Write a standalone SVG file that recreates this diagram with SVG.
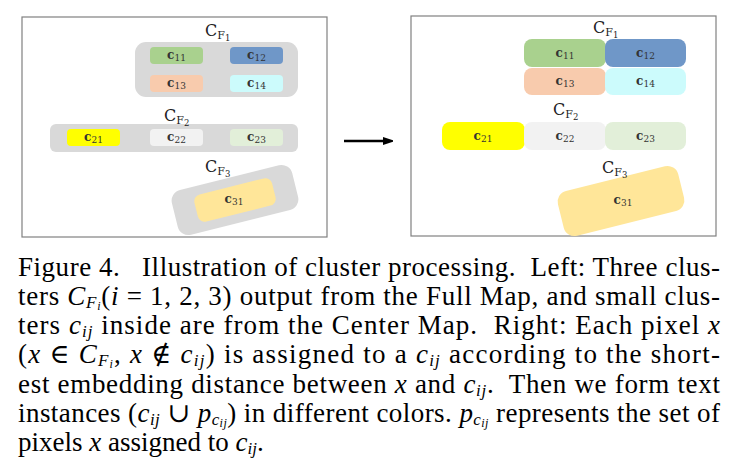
<svg xmlns="http://www.w3.org/2000/svg" width="744" height="474" viewBox="0 0 744 474">
<style>
.panel{fill:#fff;stroke:#808080;stroke-width:1.2}
.cl{fill:#d9d9d9}
.lbl{font-family:"DejaVu Serif","Liberation Serif",serif;font-size:12px;fill:#333;text-anchor:middle;font-weight:600}
.lbl .s{font-size:9px;font-weight:normal}
.cf{font-family:"DejaVu Serif","Liberation Serif",serif;font-size:16px;fill:#222}
.cap{font-family:"Liberation Serif","DejaVu Serif",serif;font-size:27px;fill:#000}
.i{font-style:italic}
.sb{font-style:italic;font-size:17px}
.ssb{font-style:italic;font-size:12px}
</style>
<defs>
<marker id="ah" markerWidth="10" markerHeight="8" refX="1" refY="4" orient="auto" markerUnits="userSpaceOnUse"><path d="M0,0 L12,4 L0,8 Z" fill="#000"/></marker>
</defs>
<rect width="744" height="474" fill="#fff"/>
<g id="left-panel">
<rect class="panel" x="22" y="17" width="305" height="220"/>
<g id="CF1-left">
<rect class="cl" x="135" y="42" width="163" height="55" rx="11"/>
<text class="cf" x="205" y="36">C<tspan font-size="11" dy="3">F</tspan><tspan font-size="8.5" dy="2">1</tspan></text>
</g>
<g id="c11-left"><rect x="150" y="47" width="53" height="17" rx="4" fill="#a9d18e"/><text class="lbl" x="176.5" y="59">c<tspan class="s" dy="2">11</tspan></text></g>
<g id="c12-left"><rect x="230" y="47" width="53" height="17" rx="4" fill="#6f97c8"/><text class="lbl" x="256.5" y="59">c<tspan class="s" dy="2">12</tspan></text></g>
<g id="c13-left"><rect x="150" y="75" width="53" height="17" rx="4" fill="#f8cbad"/><text class="lbl" x="176.5" y="87">c<tspan class="s" dy="2">13</tspan></text></g>
<g id="c14-left"><rect x="230" y="75" width="53" height="17" rx="4" fill="#ccfbfc"/><text class="lbl" x="256.5" y="87">c<tspan class="s" dy="2">14</tspan></text></g>
<g id="CF2-left">
<rect class="cl" x="50" y="124" width="248" height="28" rx="6"/>
<text class="cf" x="164" y="121">C<tspan font-size="11" dy="3">F</tspan><tspan font-size="8.5" dy="2">2</tspan></text>
</g>
<g id="c21-left"><rect x="67" y="129" width="53" height="17" rx="4" fill="#ffff00"/><text class="lbl" x="93.5" y="141">c<tspan class="s" dy="2">21</tspan></text></g>
<g id="c22-left"><rect x="150" y="129" width="53" height="17" rx="4" fill="#f2f2f2"/><text class="lbl" x="176.5" y="141">c<tspan class="s" dy="2">22</tspan></text></g>
<g id="c23-left"><rect x="230" y="129" width="53" height="17" rx="4" fill="#e2efd9"/><text class="lbl" x="256.5" y="141">c<tspan class="s" dy="2">23</tspan></text></g>
<g id="CF3-left">
<rect class="cl" x="173" y="177" width="124" height="46" rx="11" transform="rotate(-14 235 200)"/>
<text class="cf" x="205" y="172">C<tspan font-size="11" dy="3">F</tspan><tspan font-size="8.5" dy="2">3</tspan></text>
</g>
<g id="c31-left"><rect x="195" y="186" width="80" height="28" rx="7" fill="#ffe699" transform="rotate(-14 235 200)"/><text class="lbl" x="234" y="203">c<tspan class="s" dy="2">31</tspan></text></g>
</g>
<g id="connectors">
<line x1="344" y1="141" x2="384" y2="141" stroke="#000" stroke-width="2.5" marker-end="url(#ah)"/>
</g>
<g id="right-panel">
<rect class="panel" x="411" y="16" width="305" height="220"/>
<text class="cf" x="593" y="33">C<tspan font-size="11" dy="3">F</tspan><tspan font-size="8.5" dy="2">1</tspan></text>
<g id="c11-right"><rect x="524" y="39" width="82" height="28" rx="8" fill="#a9d18e"/><text class="lbl" x="565" y="57">c<tspan class="s" dy="2">11</tspan></text></g>
<g id="c12-right"><rect x="605" y="39" width="81" height="28" rx="8" fill="#6f97c8"/><text class="lbl" x="645.5" y="57">c<tspan class="s" dy="2">12</tspan></text></g>
<g id="c13-right"><rect x="524" y="68" width="82" height="27" rx="8" fill="#f8cbad"/><text class="lbl" x="565" y="85">c<tspan class="s" dy="2">13</tspan></text></g>
<g id="c14-right"><rect x="605" y="68" width="81" height="27" rx="8" fill="#ccfbfc"/><text class="lbl" x="645.5" y="85">c<tspan class="s" dy="2">14</tspan></text></g>
<text class="cf" x="553" y="115">C<tspan font-size="11" dy="3">F</tspan><tspan font-size="8.5" dy="2">2</tspan></text>
<g id="c21-right"><rect x="442" y="122" width="83" height="28" rx="8" fill="#ffff00"/><text class="lbl" x="483" y="140">c<tspan class="s" dy="2">21</tspan></text></g>
<g id="c22-right"><rect x="524" y="122" width="82" height="28" rx="8" fill="#f2f2f2"/><text class="lbl" x="565" y="140">c<tspan class="s" dy="2">22</tspan></text></g>
<g id="c23-right"><rect x="605" y="122" width="81" height="28" rx="8" fill="#e2efd9"/><text class="lbl" x="645.5" y="140">c<tspan class="s" dy="2">23</tspan></text></g>
<g id="c31-right"><rect x="559" y="178" width="124" height="46" rx="11" fill="#ffe699" transform="rotate(-14 621 201)"/><text class="lbl" x="623" y="204">c<tspan class="s" dy="2">31</tspan></text></g>
<text class="cf" x="602" y="173">C<tspan font-size="11" dy="3">F</tspan><tspan font-size="8.5" dy="2">3</tspan></text>
</g>
<g id="caption" class="cap">
<text x="18" y="276" textLength="702" lengthAdjust="spacing">Figure 4.&#160;&#160; Illustration of cluster processing.&#160; Left: Three clus-</text>
<text x="18" y="305" textLength="702" lengthAdjust="spacing">ters <tspan class="i">C</tspan><tspan class="sb" dy="3">F</tspan><tspan class="ssb" dy="2">i</tspan><tspan dy="-5">(</tspan><tspan class="i">i</tspan> = 1, 2, 3) output from the Full Map, and small clus-</text>
<text x="18" y="334" textLength="702" lengthAdjust="spacing">ters <tspan class="i">c</tspan><tspan class="sb" dy="3">ij</tspan><tspan dy="-3"> inside are from the Center Map.&#160; Right: Each pixel </tspan><tspan class="i">x</tspan></text>
<text x="18" y="363" textLength="702" lengthAdjust="spacing">(<tspan class="i">x</tspan> ∈ <tspan class="i">C</tspan><tspan class="sb" dy="3">F</tspan><tspan class="ssb" dy="2">i</tspan><tspan dy="-5">, </tspan><tspan class="i">x</tspan> ∉ <tspan class="i">c</tspan><tspan class="sb" dy="3">ij</tspan><tspan dy="-3">) is assigned to a </tspan><tspan class="i">c</tspan><tspan class="sb" dy="3">ij</tspan><tspan dy="-3"> according to the short-</tspan></text>
<text x="18" y="393" textLength="702" lengthAdjust="spacing">est embedding distance between <tspan class="i">x</tspan> and <tspan class="i">c</tspan><tspan class="sb" dy="3">ij</tspan><tspan dy="-3">.&#160; Then we form text</tspan></text>
<text x="18" y="422" textLength="702" lengthAdjust="spacing">instances (<tspan class="i">c</tspan><tspan class="sb" dy="3">ij</tspan><tspan dy="-3"> ∪ </tspan><tspan class="i">p</tspan><tspan class="sb" dy="3">c</tspan><tspan class="ssb" dy="2">ij</tspan><tspan dy="-5">) in different colors. </tspan><tspan class="i">p</tspan><tspan class="sb" dy="3">c</tspan><tspan class="ssb" dy="2">ij</tspan><tspan dy="-5"> represents the set of</tspan></text>
<text x="18" y="451">pixels <tspan class="i">x</tspan> assigned to <tspan class="i">c</tspan><tspan class="sb" dy="3">ij</tspan><tspan dy="-3">.</tspan></text>
</g>
</svg>
